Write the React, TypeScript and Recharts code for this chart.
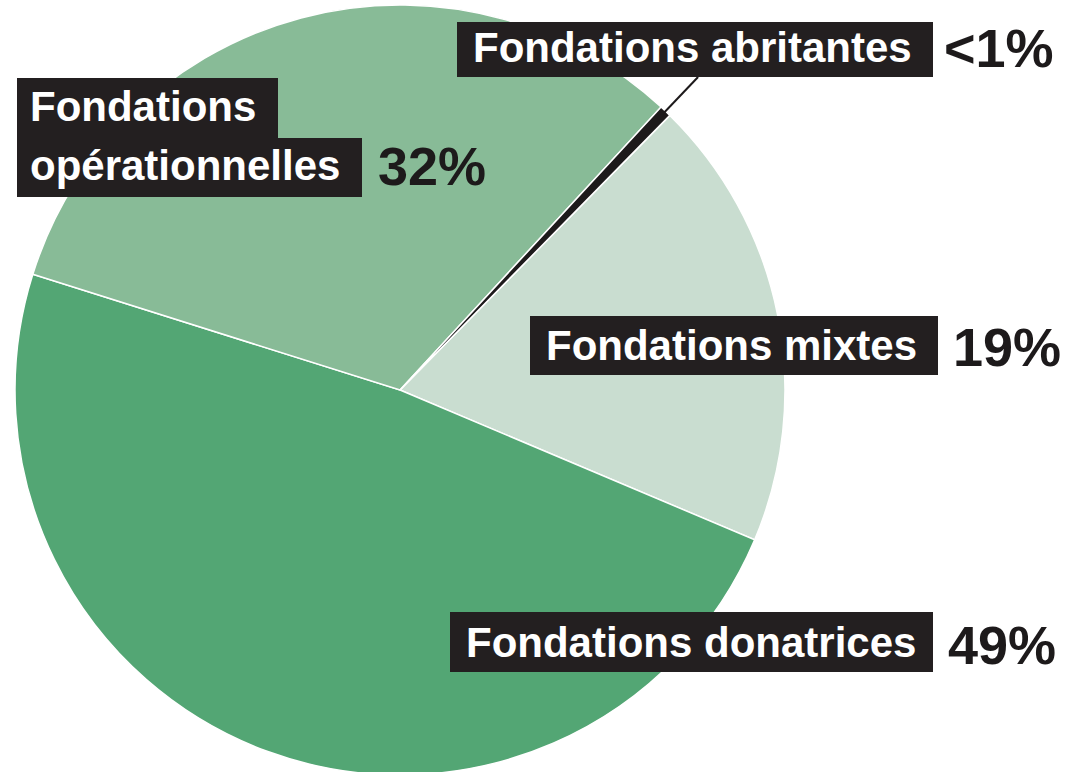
import React from 'react';
import { PieChart, Pie, Cell } from 'recharts';

const categories = ['Fondations mixtes', 'Fondations donatrices', 'Fondations opérationnelles', 'Fondations abritantes'];
const shares = [19, 48.5, 32, 0.5];
const shareLabels = ['19%', '49%', '32%', '<1%'];
const labelLines = [['Fondations mixtes'], ['Fondations donatrices'], ['Fondations', 'opérationnelles'], ['Fondations abritantes']];
const colors = ['#c9ddd0', '#53a674', '#88bb97', '#1d1a1b'];

const data = categories.map((name, i) => ({ name, value: shares[i], pct: shareLabels[i], lines: labelLines[i] }));

const FONT = '"Liberation Sans", Arial, Helvetica, sans-serif';
const BOX = '#231f20';
const RAD = Math.PI / 180;

type Box = { x: number; y: number; w: number; h: number };
type Layout = { boxes: Box[]; textX: number; baselines: number[]; pctX: number; pctY: number; leader?: boolean };

const layouts: Layout[] = [
  { boxes: [{ x: 530, y: 316, w: 408, h: 59 }], textX: 546, baselines: [360], pctX: 953, pctY: 366 },
  { boxes: [{ x: 450, y: 612, w: 483, h: 60 }], textX: 466, baselines: [657], pctX: 948, pctY: 664 },
  {
    boxes: [{ x: 17, y: 78, w: 261, h: 62 }, { x: 17, y: 138, w: 345, h: 59 }],
    textX: 30, baselines: [121, 180], pctX: 378, pctY: 185,
  },
  { boxes: [{ x: 457, y: 22, w: 476, h: 55 }], textX: 473, baselines: [62], pctX: 944, pctY: 67, leader: true },
];

function renderLabel(props: any) {
  const { index, cx, cy, midAngle, outerRadius } = props;
  const lay = layouts[index];
  const entry = data[index];
  let leader = null;
  if (lay.leader) {
    const s = Math.sin(-midAngle * RAD);
    const c = Math.cos(-midAngle * RAD);
    const r1 = outerRadius - 6;
    const boxBottom = lay.boxes[0].y + lay.boxes[0].h;
    const r2 = (boxBottom - cy) / s;
    leader = (
      <line x1={cx + r1 * c} y1={cy + r1 * s} x2={cx + r2 * c} y2={cy + r2 * s} stroke="#1d1a1b" strokeWidth={2} />
    );
  }
  return (
    <g key={`lbl-${index}`}>
      {leader}
      {lay.boxes.map((b, i) => (
        <rect key={i} x={b.x} y={b.y} width={b.w} height={b.h} fill={BOX} />
      ))}
      {entry.lines.map((t: string, i: number) => (
        <text key={i} x={lay.textX} y={lay.baselines[i]} fill="#ffffff" fontFamily={FONT} fontWeight={700} fontSize={42}>
          {t}
        </text>
      ))}
      <text x={lay.pctX} y={lay.pctY} fill="#1d1a1b" fontFamily={FONT} fontWeight={700} fontSize={54}>
        {entry.pct}
      </text>
    </g>
  );
}

export default function App() {
  return (
    <div style={{ position: 'fixed', left: 0, top: 0, width: 1074, height: 772, background: '#ffffff' }}>
      <PieChart width={1074} height={772} margin={{ top: 0, right: 0, bottom: 0, left: 0 }}>
        <Pie
          data={data}
          dataKey="value"
          nameKey="name"
          cx={400}
          cy={390}
          outerRadius={385}
          startAngle={45.5}
          endAngle={-314.5}
          stroke="#ffffff"
          strokeWidth={1.5}
          label={renderLabel}
          labelLine={false}
          isAnimationActive={false}
        >
          {data.map((d, i) => (
            <Cell key={d.name} fill={colors[i]} />
          ))}
        </Pie>
      </PieChart>
    </div>
  );
}
